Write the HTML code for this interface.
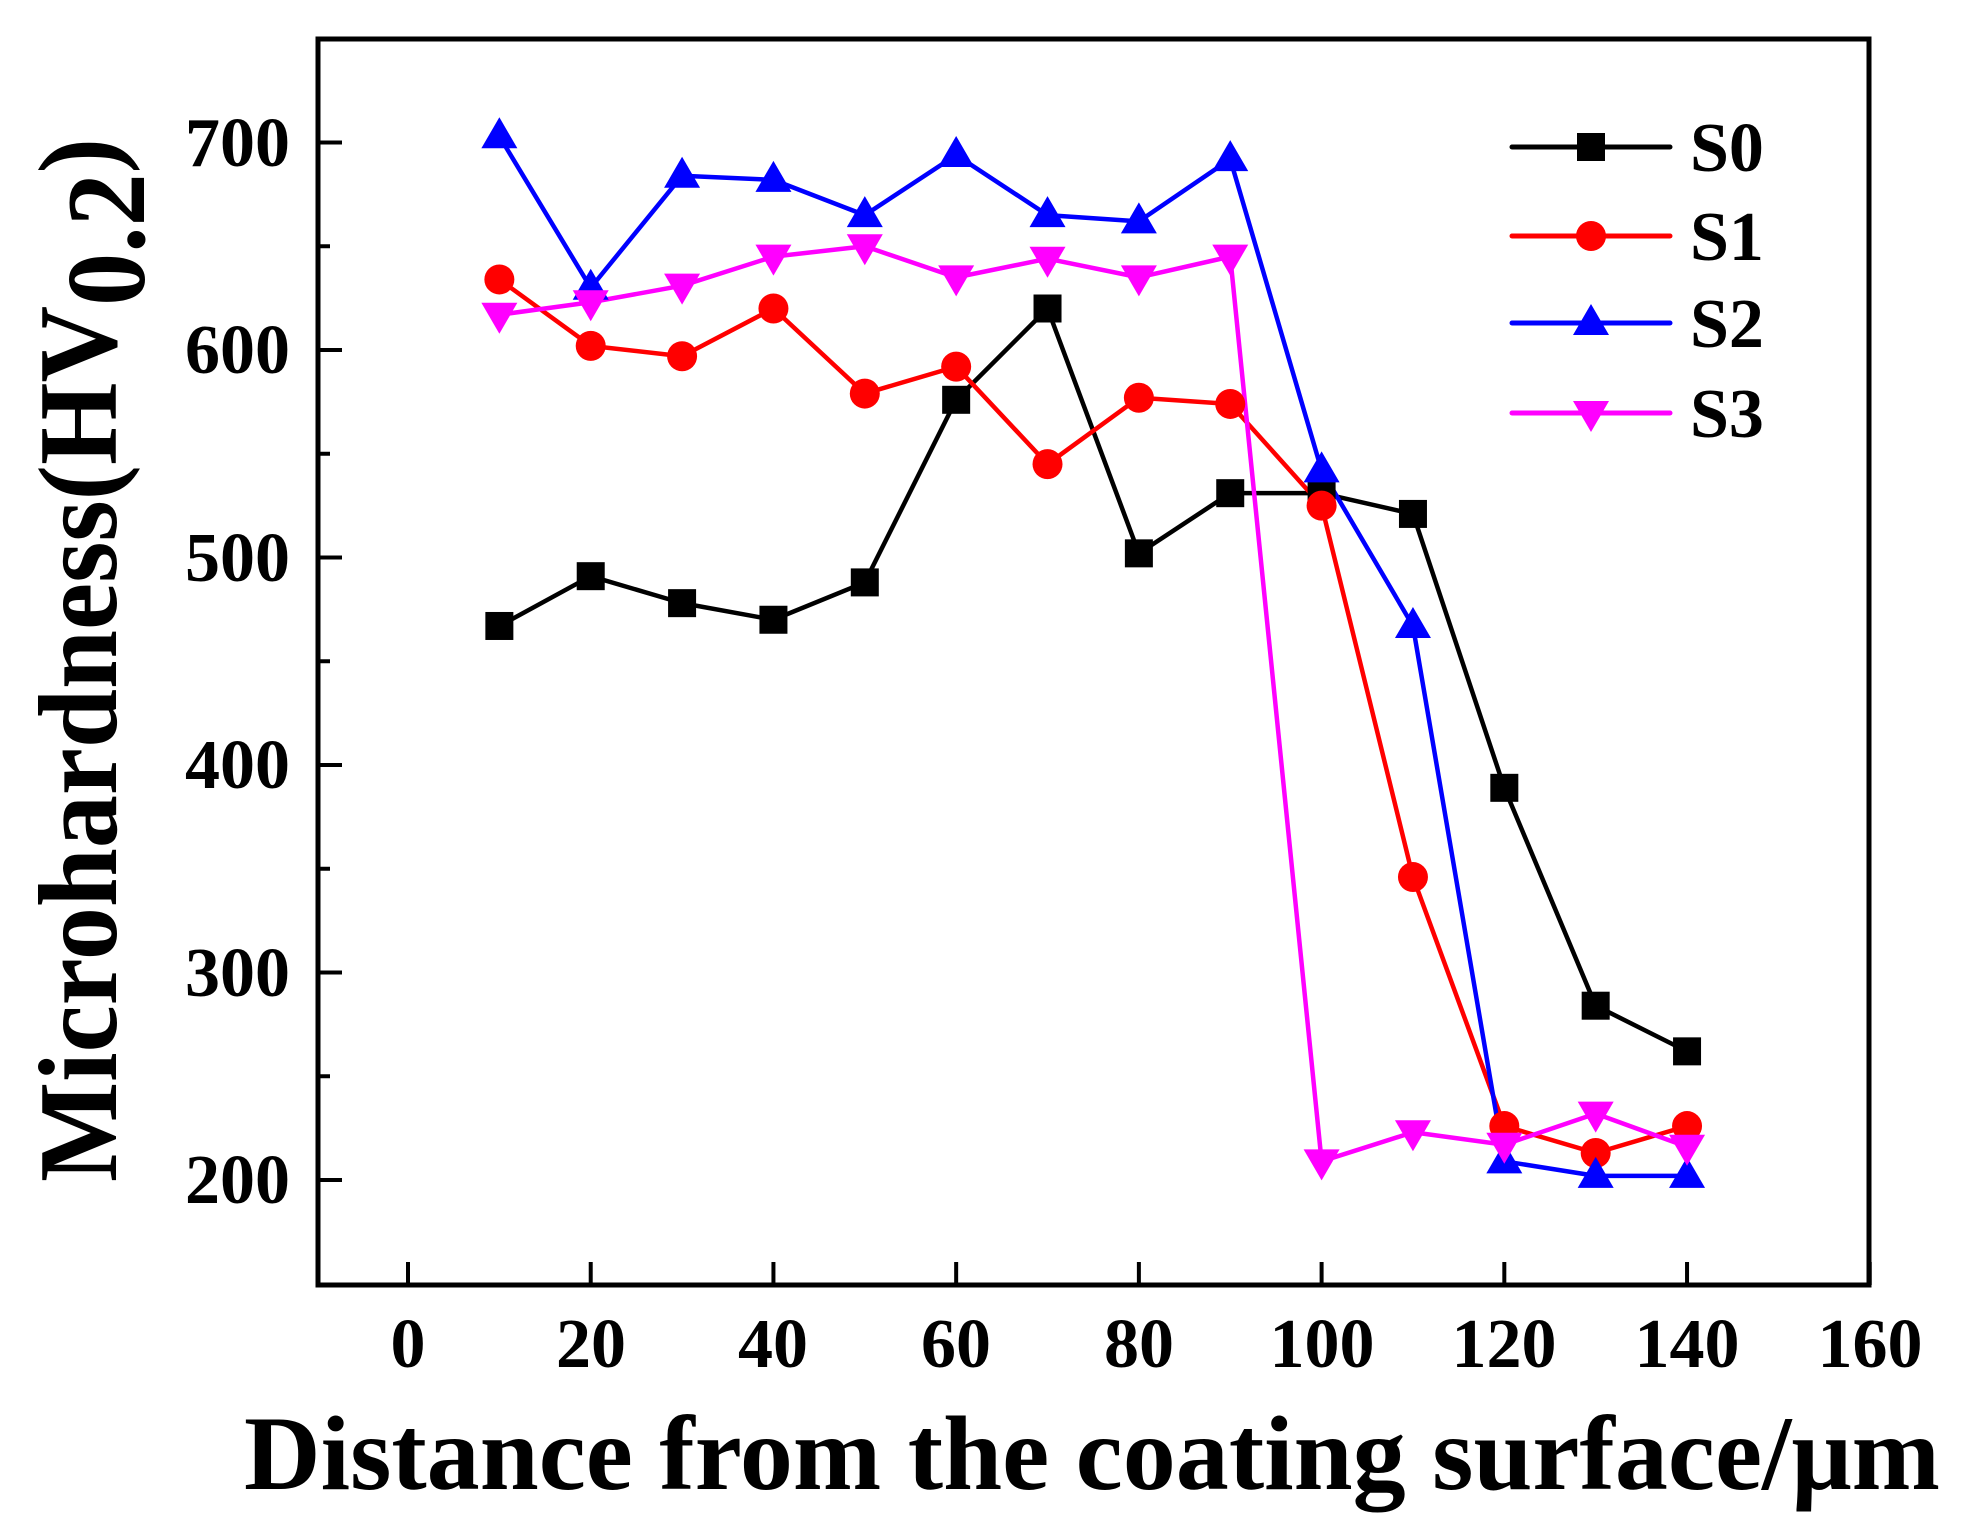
<!DOCTYPE html>
<html><head><meta charset="utf-8"><style>
html,body{margin:0;padding:0;background:#fff}
svg{display:block}
text{font-family:"Liberation Serif",serif;font-weight:bold;fill:#000}
</style></head><body>
<svg id="s" width="1962" height="1536" viewBox="0 0 1962 1536" xmlns="http://www.w3.org/2000/svg">
<rect width="1962" height="1536" fill="#fff"/>
<g id="ticks" stroke="#000" stroke-width="4"></g>
<rect x="318" y="39" width="1551" height="1246" fill="none" stroke="#000" stroke-width="5"/>
<g font-size="70" text-anchor="end">
<text x="290" y="166">700</text>
<text x="290" y="373">600</text>
<text x="290" y="581">500</text>
<text x="290" y="788">400</text>
<text x="290" y="996">300</text>
<text x="290" y="1203">200</text>
</g>
<g font-size="70" text-anchor="middle">
<text x="408" y="1367">0</text>
<text x="591" y="1367">20</text>
<text x="773" y="1367">40</text>
<text x="956" y="1367">60</text>
<text x="1139" y="1367">80</text>
<text x="1322" y="1367">100</text>
<text x="1504" y="1367">120</text>
<text x="1687" y="1367">140</text>
<text x="1870" y="1367">160</text>
</g>
<text x="244" y="1489" font-size="106" textLength="1696" lengthAdjust="spacingAndGlyphs">Distance from the coating surface/μm</text>
<text transform="translate(116,1182) rotate(-90)" font-size="112" textLength="1044" lengthAdjust="spacingAndGlyphs">Microhardness(HV<tspan dy="28">0.2</tspan><tspan dy="-28">)</tspan></text>
<g id="series"></g>
<g font-size="70">
<text x="1690" y="171">S0</text>
<text x="1690" y="260">S1</text>
<text x="1690" y="347">S2</text>
<text x="1690" y="437">S3</text>
</g>
</svg>
<script>
var NS="http://www.w3.org/2000/svg";
function el(p,t,a){var e=document.createElementNS(NS,t);for(var k in a)e.setAttribute(k,a[k]);p.appendChild(e);return e;}
var tk=document.getElementById('ticks');
function X(d){return 408+9.136*d;}
function Y(v){return 142.5+(700-v)*2.075;}
for(var d=0;d<=160;d+=20){el(tk,'line',{x1:X(d),x2:X(d),y1:1285,y2:1262});}
for(var v=200;v<=700;v+=100){el(tk,'line',{x1:318,x2:342,y1:Y(v),y2:Y(v)});}
for(var v=250;v<=750;v+=100){el(tk,'line',{x1:318,x2:330,y1:Y(v),y2:Y(v)});}
var data=[
 ['#000','sq',[467,491,478,470,488,576,620,502,531,531,521,389,284,262]],
 ['#f00','ci',[634,602,597,620,579,592,545,577,574,525,346,226,213,226]],
 ['#00f','up',[703,630,684,682,665,694,665,662,692,542,467,209,202,202]],
 ['#f0f','dn',[617,623,631,645,650,635,644,635,645,209,223,217,232,216]]
];
var g=document.getElementById('series');
function mk(c,t,x,y){
 if(t=='sq')el(g,'rect',{x:x-14,y:y-14,width:28,height:28,fill:c});
 else if(t=='ci')el(g,'circle',{cx:x,cy:y,r:15,fill:c});
 else if(t=='up')el(g,'polygon',{points:(x-18)+','+(y+12)+' '+(x+18)+','+(y+12)+' '+x+','+(y-19),fill:c});
 else el(g,'polygon',{points:(x-18)+','+(y-12)+' '+(x+18)+','+(y-12)+' '+x+','+(y+19),fill:c});
}
var ly=[147,236,323,413];
data.forEach(function(s,i){
 var pts=s[2].map(function(v,j){return X(10+10*j)+','+Y(v);}).join(' ');
 el(g,'polyline',{points:pts,fill:'none',stroke:s[0],'stroke-width':4.5,'stroke-linejoin':'round'});
});
data.forEach(function(s,i){
 s[2].forEach(function(v,j){mk(s[0],s[1],X(10+10*j),Y(v));});
 el(g,'line',{x1:1512,x2:1670,y1:ly[i],y2:ly[i],stroke:s[0],'stroke-width':5,'stroke-linecap':'round'});
 mk(s[0],s[1],1591,ly[i]);
});
</script>
</body></html>
